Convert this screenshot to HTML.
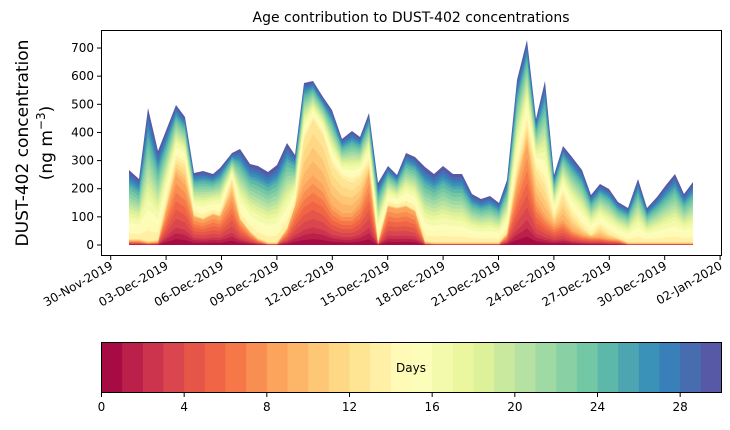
<!DOCTYPE html>
<html><head><meta charset="utf-8"><style>
body{margin:0;background:#fff;}
svg text{font-family:"DejaVu Sans","Liberation Sans",sans-serif;fill:#000;}
</style></head><body>
<svg id="s" width="730" height="425" xmlns="http://www.w3.org/2000/svg">
<g id="bands"></g>
<rect x="101.5" y="30.5" width="620" height="225" fill="none" stroke="#000" stroke-width="1"/>
<g id="yt" font-size="12"></g>
<g id="xt" font-size="12"></g>
<text x="411" y="22" font-size="14" text-anchor="middle">Age contribution to DUST-402 concentrations</text>
<text transform="translate(28,143) rotate(-90)" font-size="17" text-anchor="middle">DUST-402 concentration</text>
<text transform="translate(52,143) rotate(-90)" font-size="17" text-anchor="middle">(ng m<tspan baseline-shift="super" font-size="12">−3</tspan>)</text>
<g id="cb"></g>
<rect x="101.5" y="342.5" width="620" height="50" fill="none" stroke="#000" stroke-width="1"/>
<text x="411" y="372" font-size="12" text-anchor="middle">Days</text>
<g id="ct" font-size="12"></g>
</svg>
<script>
var NS="http://www.w3.org/2000/svg";
function el(t,a,p,txt){var e=document.createElementNS(NS,t);for(var k in a)e.setAttribute(k,a[k]);if(txt!=null)e.textContent=txt;p.appendChild(e);return e;}
var stops=[[0,[158,1,66]],[.1,[213,62,79]],[.2,[244,109,67]],[.3,[253,174,97]],[.4,[254,224,139]],[.5,[255,255,191]],[.6,[230,245,152]],[.7,[171,221,164]],[.8,[102,194,165]],[.9,[50,136,189]],[1,[94,79,162]]];
function cm(v){for(var i=0;i<stops.length-1;i++){if(v<=stops[i+1][0]){var f=(v-stops[i][0])/(stops[i+1][0]-stops[i][0]);var a=stops[i][1],b=stops[i+1][1];return "rgb("+[0,1,2].map(function(j){return Math.round(a[j]+(b[j]-a[j])*f)}).join(",")+")";}}return "rgb(94,79,162)";}
var N=30,cols=[];for(var i=0;i<N;i++)cols.push(cm((i+0.5)/N));
var P=[[129,170],[139,179],[148,108],[158,151],[176,105],[185,117],[194,173],[203,171],[213,174],[220,168],[232,153],[240,149],[250,164],[258,166],[268,172],[277,165],[287,143],[295,155],[304,83],[313,81],[323,97],[332,110],[342,139],[352,131],[360,137],[369,113],[378,183],[388,166],[397,175],[406,153],[415,157],[425,167],[434,174],[443,166],[453,174],[462,174],[472,194],[481,199],[490,196],[499,203],[507,180],[517,80],[527,40],[536,119],[545,81],[554,175],[563,146],[572,157],[582,170],[591,195],[600,184],[609,189],[618,202],[628,208],[638,179],[647,208],[657,197],[666,185],[675,174],[684,194],[693,182]];
var Ymap={129:4,139:4,148:2,158:3,176:70,185:60,194:28,203:25,213:30,220:28,232:50,240:25,250:12,258:5,268:1,277:1,287:15,295:38,304:60,313:70,323:60,332:40,342:32,352:32,360:42,369:70,378:1,388:38,397:36,406:38,415:33,425:2,507:10,517:60,527:100,536:45,545:30,554:20,563:25,572:15,582:10,591:8,600:8,609:6,618:5};
var Lmap={176:15,185:20,232:15,304:45,313:55,323:50,332:40,342:35,352:30,360:25,369:12,517:15,527:20,536:30,545:30,554:8,563:25,572:15,582:8,600:10,609:5};
var B=245;
var wy=[];for(var i=0;i<9;i++)wy.push(i<3?0.8:1.2);
var wl=[1,1,1,1];
var wo=[];for(var i=13;i<30;i++){var w=i<17?1.4:(i<25?1.0:0.75);if(i==29)w=0.9;wo.push(w);}
function norm(a){var s=a.reduce(function(p,c){return p+c},0);return a.map(function(v){return v/s});}
wy=norm(wy);wl=norm(wl);wo=norm(wo);
var layers=[];
P.forEach(function(p){var T=B-p[1];var Y=Ymap[p[0]]!=null?Ymap[p[0]]:1;var L=Lmap[p[0]]!=null?Lmap[p[0]]:2;if(Y+L>T-10){L=Math.max(0,T-10-Y);}var R=T-Y-L;var c=[0],acc=0;
for(var i=0;i<9;i++){acc+=Y*wy[i];c.push(acc);}for(var i=0;i<4;i++){acc+=L*wl[i];c.push(acc);}for(var i=0;i<17;i++){acc+=R*wo[i];c.push(acc);}layers.push(c);});
var g=document.getElementById("bands");
for(var k=N-1;k>=0;k--){var pts=[];P.forEach(function(p,j){pts.push(p[0]+","+(B-layers[j][k+1]).toFixed(1));});
for(var j=P.length-1;j>=0;j--)pts.push(P[j][0]+","+B);
el("polygon",{points:pts.join(" "),fill:cols[k]},g);}
var yt=document.getElementById("yt");
for(var v=0;v<=700;v+=100){var y=B-v*0.2814;el("line",{x1:97,x2:101.5,y1:y,y2:y,stroke:"#000"},yt);el("text",{x:94,y:y+4,"text-anchor":"end"},yt,v);}
var xt=document.getElementById("xt");
var labs=["30-Nov-2019","03-Dec-2019","06-Dec-2019","09-Dec-2019","12-Dec-2019","15-Dec-2019","18-Dec-2019","21-Dec-2019","24-Dec-2019","27-Dec-2019","30-Dec-2019","02-Jan-2020"];
labs.forEach(function(l,i){var x=110.7+i*55.4;el("line",{x1:x,x2:x,y1:255.5,y2:260,stroke:"#000"},xt);el("text",{transform:"translate("+(x+3)+",268) rotate(-30)","text-anchor":"end"},xt,l);});
var cb=document.getElementById("cb"),ct=document.getElementById("ct");
for(var i=0;i<N;i++)el("rect",{x:101.5+i*620/30,y:342.5,width:620/30+0.5,height:50,fill:cols[i]},cb);
for(var v=0;v<=28;v+=4){var x=101.5+v*620/30;el("line",{x1:x,x2:x,y1:392.5,y2:397,stroke:"#000"},ct);el("text",{x:x,y:411,"text-anchor":"middle"},ct,v);}
</script>
</body></html>
